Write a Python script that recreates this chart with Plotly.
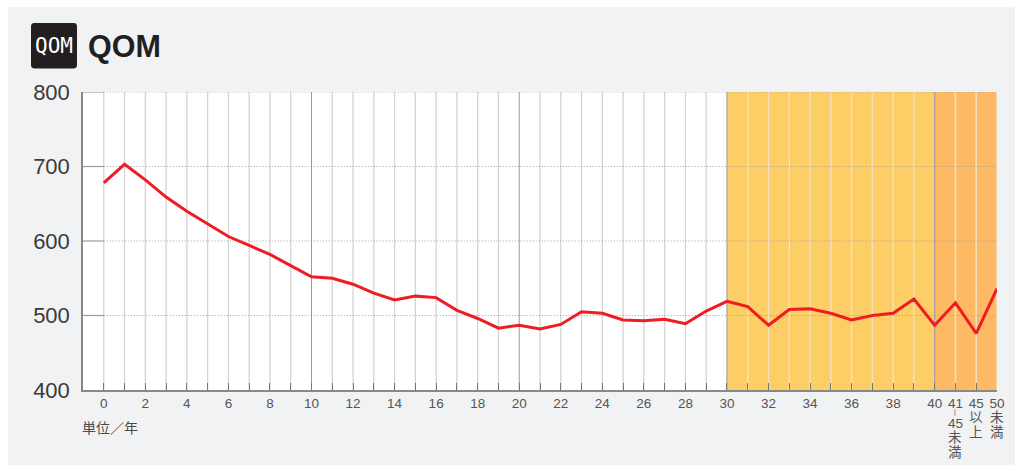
import plotly.graph_objects as go

categories = [str(i) for i in range(41)] + ["41-45未満", "45以上", "50未満"]
tick_labels = ["0", "", "2", "", "4", "", "6", "", "8", "", "10", "", "12", "", "14", "", "16", "", "18", "", "20", "",
               "22", "", "24", "", "26", "", "28", "", "30", "", "32", "", "34", "", "36", "", "38", "", "40",
               "41", "45", "50"]
qom = [678, 703, 682, 659, 640, 623, 606, 594, 582, 567, 552, 550, 542, 530, 521, 526, 524, 507, 496, 483, 487, 482,
       488, 505, 503, 494, 493, 495, 489, 506, 519, 512, 487, 508, 509, 503, 494, 500, 503, 522, 487, 517, 476, 536]
y_ticks = [400, 500, 600, 700, 800]
# remaining stacked characters of the last three category labels: (position, text, pixel row)
label_rest = [(41, "|", 413), (41, "45", 424), (41, "未", 438), (41, "満", 453),
              (42, "以", 418), (42, "上", 433), (43, "未", 418), (43, "満", 433)]

positions = list(range(len(categories)))
W, H = 1015, 468
L, R, T, B = 83, 997, 92, 390.5
FONT = "Liberation Sans, Noto Sans CJK JP, sans-serif"

def px(x):
    return (x - L) / (R - L)

def py(y):
    return (B - y) / (B - T)

def rounded(x0, y0, x1, y1, r):
    return (f"M {px(x0 + r)} {py(y0)} L {px(x1 - r)} {py(y0)} Q {px(x1)} {py(y0)} {px(x1)} {py(y0 + r)} "
            f"L {px(x1)} {py(y1 - r)} Q {px(x1)} {py(y1)} {px(x1 - r)} {py(y1)} "
            f"L {px(x0 + r)} {py(y1)} Q {px(x0)} {py(y1)} {px(x0)} {py(y1 - r)} "
            f"L {px(x0)} {py(y0 + r)} Q {px(x0)} {py(y0)} {px(x0 + r)} {py(y0)} Z")

shapes = [
    dict(type="rect", xref="paper", yref="paper", x0=px(8), x1=px(W), y0=py(466), y1=py(7),
         fillcolor="#f1f2f4", line_width=0, layer="below"),
    dict(type="rect", xref="paper", yref="paper", x0=0, x1=1, y0=0, y1=1, fillcolor="#ffffff", line_width=0, layer="below"),
    dict(type="rect", x0=30, x1=40, y0=400, y1=800, fillcolor="#fdcd66", line_width=0, layer="below"),
    dict(type="rect", x0=40, x1=43, y0=400, y1=800, fillcolor="#fdb964", line_width=0, layer="below"),
]
for p in positions:
    if p in (10, 20, 30, 40):
        c, w = "#999999", 1
    elif p > 30:
        c, w = "#f3e2bd", 1.5
    else:
        c, w = "#d4d4d4", 1.3
    shapes.append(dict(type="line", x0=p, x1=p, y0=400, y1=800, line=dict(color=c, width=w), layer="between"))
for v in y_ticks[1:]:
    shapes.append(dict(type="line", x0=-1, x1=0, y0=v, y1=v, line=dict(color="#999999", width=1.2), layer="between"))
    shapes.append(dict(type="line", x0=0, x1=43, y0=v, y1=v, line=dict(color="#a0a0a0", width=1, dash="1px,2px"), layer="between"))
shapes.append(dict(type="path", xref="paper", yref="paper", path=rounded(31, 23, 77, 68.5, 3.5),
                   fillcolor="#231f20", line_width=0))

annotations = [
    dict(xref="paper", yref="paper", x=px(85.5), y=py(46), text="<b>QOM</b>", showarrow=False,
         xanchor="left", yanchor="middle", font=dict(size=30.5, color="#231f20")),
    dict(xref="paper", yref="paper", x=px(54), y=py(45.5), text="QOM", showarrow=False,
         xanchor="center", yanchor="middle", font=dict(size=21, color="#ffffff", family="DejaVu Sans Mono")),
    dict(xref="paper", yref="paper", x=px(80), y=py(427.5), text="単位／年", showarrow=False,
         xanchor="left", yanchor="middle", font=dict(size=14, color="#4a4a4a", family="Noto Sans CJK JP")),
]
for pos, txt, row in label_rest:
    annotations.append(dict(xref="x", yref="paper", x=pos, y=py(row), text=txt, showarrow=False,
                            xanchor="center", yanchor="middle", borderpad=0,
                            font=dict(size=7 if txt == "|" else 13.5, color="#555555", family="Liberation Sans, Noto Sans CJK JP")))

fig = go.Figure(go.Scatter(x=positions, y=qom, mode="lines", line=dict(color="#f01c24", width=3), cliponaxis=False,
                           hoverinfo="skip"))
fig.update_layout(
    width=W, height=H, autosize=False,
    margin=dict(l=L, r=W - R, t=T, b=H - B),
    paper_bgcolor="#ffffff", plot_bgcolor="#ffffff", showlegend=False,
    font=dict(family=FONT, color="#444444"),
    shapes=shapes,
    annotations=annotations,
    xaxis=dict(range=[-1, 43], tickmode="array", tickvals=positions, ticktext=tick_labels, tickangle=0, automargin=False,
               ticks="inside", ticklen=7, tickwidth=1, tickcolor="#777777", showgrid=False, zeroline=False,
               showline=True, linecolor="#888888", linewidth=2, tickfont=dict(size=13.5, color="#555555"), fixedrange=True),
    yaxis=dict(range=[400, 800], tickmode="array", tickvals=y_ticks, showgrid=False, zeroline=False, ticks="", automargin=False,
               ticklabelstandoff=7, showline=True, linecolor="#888888", linewidth=1.5,
               tickfont=dict(size=22, color="#3a3a3a"), fixedrange=True),
)
fig.write_html("out.html", config=dict(displayModeBar=False),
               post_script="document.body.style.margin='0';document.body.style.overflow='hidden';")
